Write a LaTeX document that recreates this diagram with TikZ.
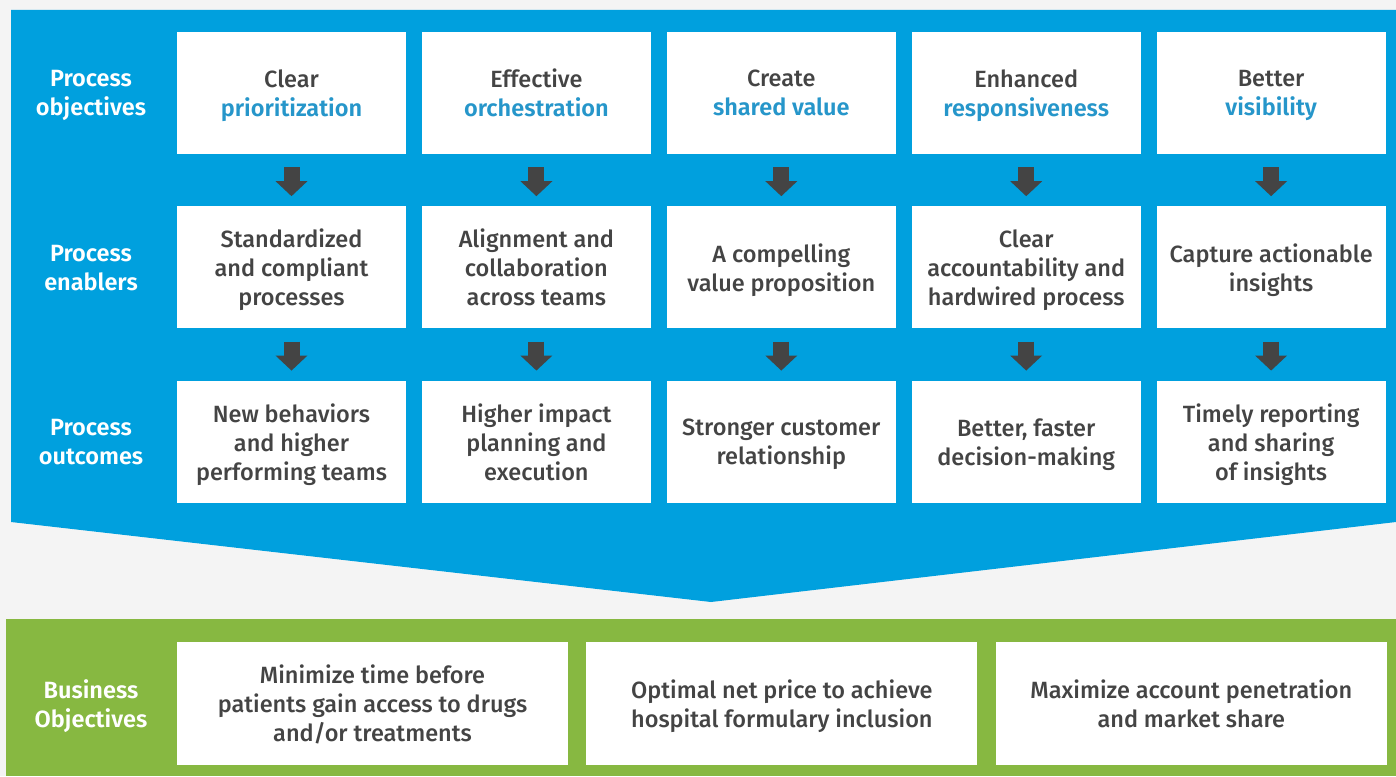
\documentclass[tikz,border=0pt]{standalone}
\usepackage{fontspec}
\setmainfont{Fira Sans}[UprightFont=* Medium, BoldFont=* SemiBold]
\usetikzlibrary{arrows.meta,positioning}
\usepackage{xcolor}
\definecolor{pagegray}{RGB}{244,244,244}
\definecolor{procblue}{RGB}{0,160,222}
\definecolor{bizgreen}{RGB}{135,184,65}
\definecolor{darktext}{RGB}{68,68,68}
\definecolor{keyblue}{RGB}{38,150,202}
\newcommand{\kw}[1]{{\bfseries\color{keyblue}#1}}

\begin{document}
\begin{tikzpicture}[
    x=1pt, y=-1pt,
    node distance=52pt and 15.5pt,
    box/.style={fill=white, minimum width=229pt, minimum height=122pt, inner sep=0pt, align=center, text=darktext, font=\fontsize{23.5}{29}\selectfont, text depth=0pt},
    bizbox/.style={box, minimum width=391pt, minimum height=123pt},
    rowlabel/.style={align=center, text=white, font=\fontsize{23.5}{29}\selectfont\bfseries, text depth=0pt},
    arrow/.style={-{Triangle[width=31pt,length=15pt]}, line width=16pt, darktext, shorten <=13pt, shorten >=10pt}
  ]
    \useasboundingbox (0,0) rectangle (1396,776);
    \fill[pagegray] (0,0) rectangle (1396,776);
    % blue funnel and green band
    \fill[procblue] (11,10) -- (1396,10) -- (1396,522) -- (711,602) -- (11,522) -- cycle;
    \fill[bizgreen] (6,619) rectangle (1396,776);

    % objectives
    \node[box] (obj1) at (291.5,93) {Clear\\\kw{prioritization}};
    \node[box, right=of obj1] (obj2) {Effective\\\kw{orchestration}};
    \node[box, right=of obj2] (obj3) {Create\\\kw{shared value}};
    \node[box, right=of obj3] (obj4) {Enhanced\\\kw{responsiveness}};
    \node[box, right=of obj4] (obj5) {Better\\\kw{visibility}};

    % enablers
    \node[box, below=of obj1] (ena1) {Standardized\\and compliant\\processes};
    \node[box, below=of obj2] (ena2) {Alignment and\\collaboration\\across teams};
    \node[box, below=of obj3] (ena3) {A compelling\\value proposition};
    \node[box, below=of obj4] (ena4) {Clear\\accountability and\\hardwired process};
    \node[box, below=of obj5] (ena5) {Capture actionable\\insights};

    % outcomes
    \node[box, below=of ena1] (out1) {New behaviors\\and higher\\performing teams};
    \node[box, below=of ena2] (out2) {Higher impact\\planning and\\execution};
    \node[box, below=of ena3] (out3) {Stronger customer\\relationship};
    \node[box, below=of ena4] (out4) {Better, faster\\decision-making};
    \node[box, below=of ena5] (out5) {Timely reporting\\and sharing\\of insights};

    % business objectives
    \node[bizbox] (biz1) at (372.5,703.5) {Minimize time before\\patients gain access to drugs\\and/or treatments};
    \node[bizbox, right=18pt of biz1] (biz2) {Optimal net price to achieve\\hospital formulary inclusion};
    \node[bizbox, right=18pt of biz2] (biz3) {Maximize account penetration\\and market share};

    % row labels
    \node[rowlabel] (lobj) at (obj1 -| 91,0) {Process\\objectives};
    \node[rowlabel] (lena) at (ena1 -| 91,0) {Process\\enablers};
    \node[rowlabel] (lout) at (out1 -| 91,0) {Process\\outcomes};
    \node[rowlabel] (lbiz) at (biz1 -| 91,0) {Business\\Objectives};

    \foreach \i in {1,...,5} {
      \draw[arrow] (obj\i) -- (ena\i);
      \draw[arrow] (ena\i) -- (out\i);
    }
  \end{tikzpicture}
\end{document}
